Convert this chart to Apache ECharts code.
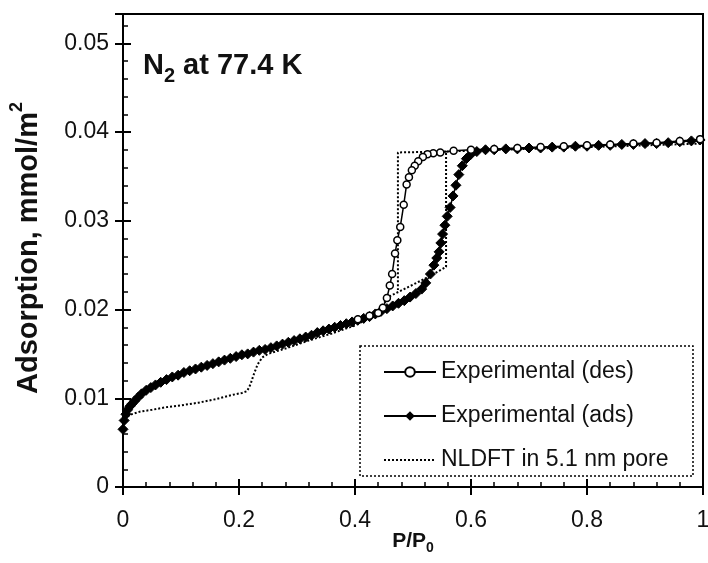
<!DOCTYPE html>
<html>
<head>
<meta charset="utf-8">
<script src="https://cdn.jsdelivr.net/npm/echarts@6/dist/echarts.min.js"></script>
<style>html,body{margin:0;padding:0;background:#fff}#c{width:708px;height:563px}</style>
</head>
<body>
<div id="c"></div>
<script>
// ---- data ----
var xTickLabels = ['0', '0.2', '0.4', '0.6', '0.8', '1'];
var yTickLabels = ['0', '0.01', '0.02', '0.03', '0.04', '0.05'];

// Experimental adsorption branch (filled markers)
var adsP = [0.000,0.002,0.005,0.008,0.012,0.016,0.020,0.026,0.032,0.040,0.048,0.056,0.065,0.075,0.085,0.095,
  0.105,0.115,0.125,0.135,0.145,0.155,0.165,0.175,0.185,0.195,0.205,0.215,0.225,0.235,0.245,0.255,0.265,0.275,
  0.285,0.295,0.305,0.315,0.325,0.335,0.345,0.355,0.365,0.375,0.385,0.395,0.405,0.415,0.425,0.435,0.445,0.455,
  0.465,0.475,0.485,0.495,0.505,0.515,0.522,0.530,0.536,0.541,0.545,0.548,0.551,0.555,0.559,0.564,0.569,0.574,
  0.579,0.585,0.592,0.600,0.610,0.625,0.640,0.660,0.680,0.700,0.720,0.740,0.760,0.780,0.800,0.820,0.840,0.860,
  0.880,0.900,0.920,0.940,0.960,0.980,0.995];
var adsA = [0.0065,0.0075,0.0082,0.0087,0.0091,0.0094,0.0097,0.0101,0.0105,0.0109,0.0112,0.0115,0.0118,0.0121,0.0124,0.0126,
  0.0129,0.0131,0.0133,0.0135,0.0137,0.0139,0.0141,0.0143,0.0145,0.0147,0.0149,0.0150,0.0152,0.0154,0.0155,0.0157,0.0159,0.0161,
  0.0163,0.0165,0.0167,0.0169,0.0171,0.0174,0.0176,0.0178,0.0180,0.0182,0.0184,0.0186,0.0188,0.0190,0.0192,0.0195,0.0198,0.0201,
  0.0204,0.0207,0.0210,0.0214,0.0218,0.0223,0.0230,0.0240,0.0250,0.0258,0.0265,0.0275,0.0285,0.0295,0.0305,0.0315,0.0328,0.0340,
  0.0352,0.0362,0.0370,0.0375,0.0378,0.0380,0.0380,0.0381,0.0381,0.0382,0.0382,0.0383,0.0383,0.0384,0.0384,0.0385,0.0385,0.0386,
  0.0386,0.0387,0.0387,0.0388,0.0389,0.0390,0.0391];

// Experimental desorption branch (open markers)
var desP = [0.995,0.960,0.920,0.880,0.840,0.800,0.760,0.720,0.680,0.640,0.600,0.570,0.547,0.535,0.525,0.517,0.509,
  0.503,0.498,0.493,0.489,0.484,0.478,0.473,0.469,0.464,0.460,0.455,0.448,0.440,0.425,0.405];
var desA = [0.0392,0.0390,0.0388,0.0387,0.0386,0.0385,0.0384,0.0383,0.0382,0.0381,0.0380,0.0379,0.0377,0.0376,0.0375,0.0372,0.0367,
  0.0362,0.0357,0.0349,0.0341,0.0318,0.0293,0.0278,0.0263,0.0240,0.0227,0.0213,0.0202,0.0196,0.0193,0.0189];

// NLDFT in 5.1 nm pore (dotted); null separates adsorption and desorption branches
var nldftP = [0.000,0.005,0.015,0.030,0.050,0.075,0.100,0.130,0.160,0.190,0.205,0.214,0.220,0.225,0.232,0.240,0.250,
  0.280,0.320,0.360,0.400,0.430,0.460,0.500,0.530,0.557,0.557,0.600,0.700,0.800,0.900,1.000,
  null, 0.557,0.474,0.474];
var nldftA = [0.0072,0.0078,0.0082,0.0085,0.0087,0.0090,0.0092,0.0095,0.0099,0.0104,0.0106,0.0108,0.0116,0.0126,0.0138,0.0146,0.0150,
  0.0156,0.0165,0.0173,0.0182,0.0192,0.0215,0.0228,0.0238,0.0248,0.0378,0.0379,0.0381,0.0383,0.0385,0.0387,
  null, 0.0378,0.0377,0.0222];

function pairs(xs, ys) {
  var out = [];
  for (var i = 0; i < xs.length; i++) out.push(xs[i] === null ? [null, null] : [xs[i], ys[i]]);
  return out;
}

var FONT = '"Liberation Sans", Arial, Helvetica, "DejaVu Sans", sans-serif';
var X_MAX = 1, Y_MAX = 0.0533;

function xFmt(v) {
  var i = Math.round(v / 0.2);
  return Math.abs(v - i * 0.2) < 1e-9 && i < xTickLabels.length ? xTickLabels[i] : '';
}
function yFmt(v) {
  var i = Math.round(v / 0.01);
  return Math.abs(v - i * 0.01) < 1e-9 && i < yTickLabels.length ? yTickLabels[i] : '';
}

var axisLineStyle = { show: true, lineStyle: { color: '#000', width: 2 } };

var chart = echarts.init(document.getElementById('c'), null, { renderer: 'canvas' });
chart.setOption({
  animation: false,
  backgroundColor: '#fff',
  grid: { left: 123, right: 5, top: 14, bottom: 76, containLabel: false, outerBoundsMode: 'none',
    show: true, borderColor: '#000', borderWidth: 2, backgroundColor: 'transparent' },
  xAxis: [
    { type: 'value', min: 0, max: X_MAX, interval: 0.2, position: 'bottom',
      axisLine: axisLineStyle, splitLine: { show: false },
      axisTick: { show: true, inside: false, length: 8, lineStyle: { color: '#000', width: 2 } },
      axisLabel: { formatter: xFmt, fontSize: 23, color: '#111', fontFamily: FONT, margin: 22 } },
    { type: 'value', min: 0, max: X_MAX, interval: 0.2, position: 'bottom',
      axisLine: { show: false }, splitLine: { show: false }, axisLabel: { show: false },
      axisTick: { show: true, inside: true, length: 8, lineStyle: { color: '#000', width: 2 } } },
    { type: 'value', min: 0, max: X_MAX, interval: 0.04, position: 'bottom',
      axisLine: { show: false }, splitLine: { show: false }, axisLabel: { show: false },
      axisTick: { show: true, inside: true, length: 5, lineStyle: { color: '#000', width: 1.5 } } }
  ],
  yAxis: [
    { type: 'value', min: 0, max: Y_MAX, interval: 0.01, position: 'left',
      axisLine: axisLineStyle, splitLine: { show: false },
      axisTick: { show: true, inside: false, length: 8, lineStyle: { color: '#000', width: 2 } },
      axisLabel: { formatter: yFmt, fontSize: 23, color: '#111', fontFamily: FONT, margin: 14 } },
    { type: 'value', min: 0, max: Y_MAX, interval: 0.01, position: 'left',
      axisLine: { show: false }, splitLine: { show: false }, axisLabel: { show: false },
      axisTick: { show: true, inside: true, length: 8, lineStyle: { color: '#000', width: 2 } } },
    { type: 'value', min: 0, max: Y_MAX, interval: 0.002, position: 'left',
      axisLine: { show: false }, splitLine: { show: false }, axisLabel: { show: false },
      axisTick: { show: true, inside: true, length: 5, lineStyle: { color: '#000', width: 1.5 } } }
  ],
  legend: {
    left: 378, top: 355, orient: 'vertical', itemWidth: 52, itemHeight: 12, itemGap: 20,
    textStyle: { fontSize: 23, color: '#111', fontFamily: FONT, lineHeight: 24 },
    data: ['Experimental (des)', 'Experimental (ads)',
      { name: 'NLDFT in 5.1 nm pore', itemStyle: { opacity: 0 } }]
  },
  series: [
    { name: 'NLDFT in 5.1 nm pore', type: 'line', data: pairs(nldftP, nldftA), showSymbol: false, symbol: 'none',
      connectNulls: false, z: 2,
      lineStyle: { color: '#000', width: 2, type: [2, 2] }, itemStyle: { color: '#000' } },
    { name: 'Experimental (ads)', type: 'line', data: pairs(adsP, adsA), symbol: 'diamond', symbolSize: 10, z: 3,
      lineStyle: { color: '#000', width: 1.5 }, itemStyle: { color: '#000', borderColor: '#000' } },
    { name: 'Experimental (des)', type: 'line', data: pairs(desP, desA), symbol: 'circle', symbolSize: 7, z: 4,
      lineStyle: { color: '#000', width: 1.5 }, itemStyle: { color: '#fff', borderColor: '#000', borderWidth: 1.5 } }
  ],
  graphic: [
    { type: 'rect', z: 1, shape: { x: 360, y: 346, width: 333, height: 130 },
      style: { fill: 'none', stroke: '#000', lineWidth: 1.5, lineDash: [2, 2] } },
    { type: 'text', left: 143, top: 51,
      style: { text: '{a|N}{s|2}{a| at 77.4 K}', fill: '#111',
        rich: {
          a: { fontSize: 29, fontWeight: 'bold', fontFamily: FONT, fill: '#111', verticalAlign: 'bottom', padding: [0, 0, 6, 0] },
          s: { fontSize: 20, fontWeight: 'bold', fontFamily: FONT, fill: '#111', verticalAlign: 'bottom' }
        } } },
    { type: 'text', x: 26, y: 248, rotation: Math.PI / 2,
      style: { text: '{a|Adsorption, mmol/m}{u|2}', fill: '#111', align: 'center', verticalAlign: 'middle',
        rich: {
          a: { fontSize: 29, fontWeight: 'bold', fontFamily: FONT, fill: '#111', verticalAlign: 'top', padding: [6, 0, 0, 0] },
          u: { fontSize: 18, fontWeight: 'bold', fontFamily: FONT, fill: '#111', verticalAlign: 'top' }
        } } },
    { type: 'text', x: 413, y: 543,
      style: { text: '{a|P/P}{s|0}', fill: '#111', align: 'center', verticalAlign: 'middle',
        rich: {
          a: { fontSize: 21, fontWeight: 'bold', fontFamily: FONT, fill: '#111', verticalAlign: 'bottom', padding: [0, 0, 4, 0] },
          s: { fontSize: 14, fontWeight: 'bold', fontFamily: FONT, fill: '#111', verticalAlign: 'bottom' }
        } } }
  ]
});
</script>
</body>
</html>
